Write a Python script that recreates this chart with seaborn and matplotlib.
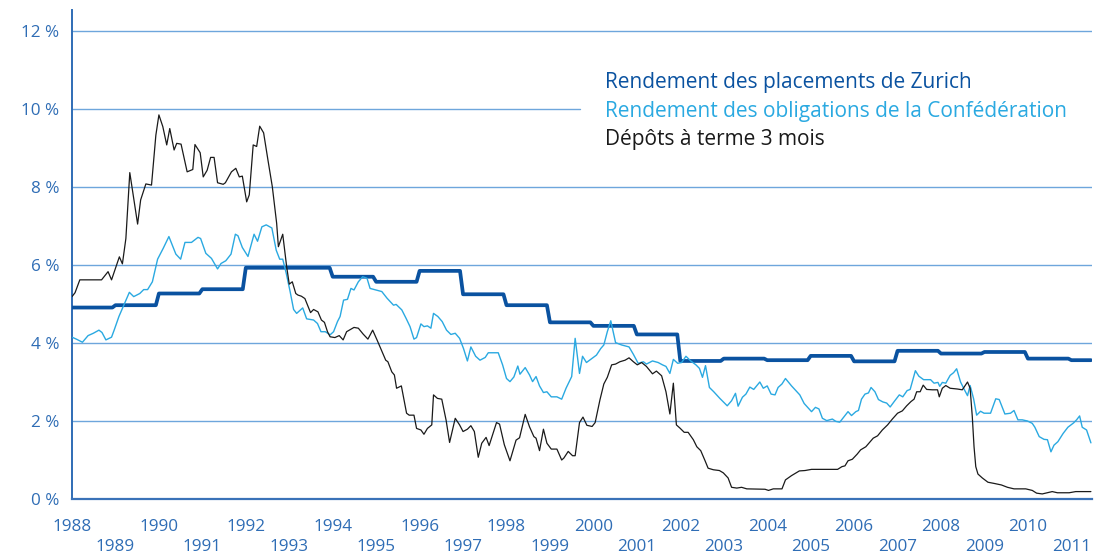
import pandas as pd
import matplotlib
matplotlib.use("Agg")
import matplotlib.pyplot as plt
import seaborn as sns

# Rendement des placements de Zurich (annual, step)
zurich_years = [1988, 1989, 1990, 1991, 1992, 1993, 1994, 1995, 1996, 1997, 1998, 1999,
                2000, 2001, 2002, 2003, 2004, 2005, 2006, 2007, 2008, 2009, 2010, 2011]
zurich_vals = [4.91, 4.97, 5.27, 5.38, 5.93, 5.93, 5.70, 5.57, 5.85, 5.25, 4.97, 4.53,
               4.44, 4.22, 3.54, 3.60, 3.56, 3.67, 3.53, 3.80, 3.73, 3.77, 3.60, 3.56]
series_end = 2011.45

# Rendement des obligations de la Confédération
bond_t = [1988.0, 1988.10, 1988.24, 1988.37, 1988.49, 1988.62, 1988.69, 1988.78, 1988.91, 1988.97,
          1989.08, 1989.18, 1989.32, 1989.42, 1989.56, 1989.65, 1989.74, 1989.85, 1989.97, 1990.10,
          1990.23, 1990.39, 1990.50, 1990.60, 1990.75, 1990.90, 1990.96, 1991.08, 1991.21, 1991.35,
          1991.43, 1991.54, 1991.66, 1991.76, 1991.82, 1991.92, 1992.05, 1992.19, 1992.27, 1992.37,
          1992.47, 1992.60, 1992.70, 1992.78, 1992.85, 1992.93, 1993.02, 1993.10, 1993.17, 1993.31,
          1993.40, 1993.56, 1993.65, 1993.73, 1993.83, 1993.94, 1994.02, 1994.11, 1994.17, 1994.25,
          1994.34, 1994.42, 1994.49, 1994.59, 1994.69, 1994.79, 1994.86, 1995.00, 1995.13, 1995.25,
          1995.40, 1995.46, 1995.59, 1995.69, 1995.78, 1995.87, 1995.93, 1996.03, 1996.10, 1996.18,
          1996.26, 1996.32, 1996.42, 1996.52, 1996.62, 1996.72, 1996.82, 1996.92, 1997.01, 1997.10,
          1997.18, 1997.29, 1997.39, 1997.51, 1997.58, 1997.81, 1997.91, 1998.00, 1998.08, 1998.17,
          1998.26, 1998.31, 1998.43, 1998.53, 1998.60, 1998.68, 1998.76, 1998.85, 1998.93, 1999.03,
          1999.16, 1999.27, 1999.37, 1999.50, 1999.58, 1999.68, 1999.75, 1999.84, 1999.96, 2000.07,
          2000.17, 2000.24, 2000.32, 2000.40, 2000.51, 2000.65, 2000.82, 2000.92, 2001.03, 2001.15,
          2001.22, 2001.36, 2001.49, 2001.59, 2001.67, 2001.76, 2001.84, 2001.94, 2002.03, 2002.13,
          2002.24, 2002.36, 2002.44, 2002.51, 2002.58, 2002.67, 2002.77, 2002.91, 2003.08, 2003.18,
          2003.27, 2003.33, 2003.43, 2003.51, 2003.60, 2003.69, 2003.83, 2003.91, 2004.00, 2004.09,
          2004.18, 2004.25, 2004.34, 2004.42, 2004.56, 2004.75, 2004.85, 2005.02, 2005.11, 2005.19,
          2005.27, 2005.37, 2005.50, 2005.58, 2005.67, 2005.77, 2005.86, 2005.94, 2006.04, 2006.10,
          2006.17, 2006.25, 2006.33, 2006.39, 2006.48, 2006.56, 2006.66, 2006.75, 2006.83, 2006.93,
          2007.04, 2007.12, 2007.22, 2007.29, 2007.41, 2007.49, 2007.60, 2007.76, 2007.84, 2007.93,
          2007.97, 2008.03, 2008.11, 2008.21, 2008.29, 2008.36, 2008.45, 2008.53, 2008.61, 2008.67,
          2008.75, 2008.82, 2008.91, 2008.99, 2009.14, 2009.26, 2009.34, 2009.47, 2009.60, 2009.68,
          2009.77, 2009.87, 2009.99, 2010.10, 2010.16, 2010.26, 2010.37, 2010.45, 2010.53, 2010.60,
          2010.69, 2010.81, 2010.92, 2011.05, 2011.12, 2011.19, 2011.25, 2011.35, 2011.45]
bond_v = [4.15, 4.10, 4.02, 4.19, 4.25, 4.33, 4.27, 4.08, 4.15, 4.33,
          4.68, 4.94, 5.30, 5.19, 5.27, 5.37, 5.37, 5.57, 6.15, 6.43,
          6.73, 6.28, 6.15, 6.58, 6.58, 6.71, 6.68, 6.30, 6.17, 5.90,
          6.04, 6.11, 6.28, 6.79, 6.75, 6.45, 6.22, 6.79, 6.61, 6.98,
          7.03, 6.95, 6.38, 6.15, 6.15, 5.79, 5.32, 4.86, 4.76, 4.90,
          4.62, 4.59, 4.50, 4.29, 4.29, 4.21, 4.29, 4.55, 4.68, 5.10,
          5.12, 5.40, 5.36, 5.57, 5.70, 5.66, 5.40, 5.36, 5.32, 5.15,
          4.97, 4.99, 4.85, 4.63, 4.42, 4.10, 4.14, 4.49, 4.42, 4.44,
          4.38, 4.76, 4.68, 4.55, 4.33, 4.22, 4.25, 4.12, 3.86, 3.54,
          3.90, 3.66, 3.56, 3.63, 3.75, 3.75, 3.44, 3.09, 3.01, 3.13,
          3.41, 3.20, 3.37, 3.18, 3.01, 3.14, 2.90, 2.73, 2.75, 2.62,
          2.62, 2.56, 2.84, 3.14, 4.12, 3.22, 3.66, 3.50, 3.60, 3.69,
          3.86, 3.95, 4.29, 4.57, 4.01, 3.95, 3.90, 3.71, 3.48, 3.52,
          3.46, 3.54, 3.50, 3.44, 3.40, 3.22, 3.58, 3.48, 3.50, 3.66,
          3.54, 3.44, 3.35, 3.12, 3.42, 2.86, 2.75, 2.58, 2.39, 2.52,
          2.71, 2.38, 2.61, 2.69, 2.87, 2.81, 3.00, 2.84, 2.90, 2.69,
          2.67, 2.86, 2.95, 3.09, 2.90, 2.67, 2.45, 2.24, 2.35, 2.31,
          2.07, 2.01, 2.05, 1.99, 1.97, 2.11, 2.24, 2.14, 2.24, 2.27,
          2.56, 2.69, 2.72, 2.86, 2.75, 2.55, 2.49, 2.46, 2.36, 2.51,
          2.67, 2.62, 2.78, 2.81, 3.29, 3.15, 3.06, 3.06, 2.97, 2.99,
          2.89, 2.99, 2.97, 3.17, 3.24, 3.34, 3.00, 2.82, 2.65, 2.91,
          2.57, 2.15, 2.25, 2.20, 2.20, 2.57, 2.55, 2.18, 2.20, 2.27,
          2.03, 2.03, 2.00, 1.94, 1.84, 1.60, 1.53, 1.52, 1.21, 1.38,
          1.47, 1.68, 1.84, 1.95, 2.03, 2.13, 1.84, 1.77, 1.44]

# Dépôts à terme 3 mois
dep_t = [1988.0, 1988.07, 1988.18, 1988.68, 1988.83, 1988.91, 1989.09, 1989.16, 1989.24, 1989.33,
         1989.51, 1989.58, 1989.70, 1989.83, 1989.93, 1990.00, 1990.09, 1990.18, 1990.25, 1990.35,
         1990.41, 1990.51, 1990.65, 1990.78, 1990.83, 1990.95, 1991.02, 1991.11, 1991.19, 1991.27,
         1991.35, 1991.48, 1991.53, 1991.67, 1991.77, 1991.85, 1991.92, 1992.02, 1992.08, 1992.17,
         1992.25, 1992.32, 1992.41, 1992.51, 1992.61, 1992.71, 1992.75, 1992.85, 1992.94, 1993.00,
         1993.07, 1993.15, 1993.20, 1993.28, 1993.36, 1993.49, 1993.56, 1993.66, 1993.74, 1993.81,
         1993.88, 1993.94, 1994.05, 1994.15, 1994.24, 1994.32, 1994.49, 1994.59, 1994.70, 1994.81,
         1994.92, 1995.02, 1995.12, 1995.22, 1995.27, 1995.36, 1995.42, 1995.47, 1995.58, 1995.70,
         1995.76, 1995.87, 1995.93, 1996.03, 1996.10, 1996.18, 1996.28, 1996.32, 1996.41, 1996.51,
         1996.61, 1996.69, 1996.82, 1996.92, 1997.00, 1997.10, 1997.18, 1997.26, 1997.35, 1997.43,
         1997.53, 1997.60, 1997.77, 1997.84, 1997.95, 1998.08, 1998.22, 1998.30, 1998.43, 1998.53,
         1998.63, 1998.68, 1998.76, 1998.85, 1998.93, 1999.03, 1999.16, 1999.27, 1999.32, 1999.42,
         1999.52, 1999.58, 1999.68, 1999.76, 1999.85, 1999.97, 2000.04, 2000.15, 2000.24, 2000.32,
         2000.42, 2000.51, 2000.61, 2000.73, 2000.82, 2000.92, 2001.01, 2001.11, 2001.22, 2001.36,
         2001.45, 2001.57, 2001.67, 2001.76, 2001.84, 2001.91, 2001.99, 2002.09, 2002.18, 2002.30,
         2002.38, 2002.47, 2002.57, 2002.64, 2002.76, 2002.90, 2002.99, 2003.10, 2003.18, 2003.30,
         2003.41, 2003.53, 2003.95, 2004.03, 2004.14, 2004.34, 2004.42, 2004.56, 2004.74, 2004.87,
         2005.02, 2005.62, 2005.72, 2005.79, 2005.86, 2005.96, 2006.07, 2006.15, 2006.27, 2006.37,
         2006.44, 2006.54, 2006.65, 2006.77, 2006.88, 2007.00, 2007.11, 2007.21, 2007.31, 2007.38,
         2007.44, 2007.52, 2007.59, 2007.67, 2007.80, 2007.92, 2007.96, 2008.03, 2008.11, 2008.21,
         2008.38, 2008.49, 2008.55, 2008.61, 2008.67, 2008.72, 2008.76, 2008.80, 2008.85, 2008.95,
         2009.08, 2009.22, 2009.39, 2009.53, 2009.68, 2009.95, 2010.10, 2010.20, 2010.33, 2010.45,
         2010.56, 2010.68, 2010.95, 2011.10, 2011.45]
dep_v = [5.19, 5.29, 5.62, 5.62, 5.83, 5.62, 6.21, 6.03, 6.68, 8.37,
         7.05, 7.67, 8.08, 8.05, 9.33, 9.85, 9.55, 9.08, 9.50, 8.95,
         9.12, 9.10, 8.39, 8.45, 9.09, 8.88, 8.26, 8.43, 8.76, 8.76,
         8.11, 8.07, 8.11, 8.39, 8.48, 8.26, 8.28, 7.62, 7.80, 9.08,
         9.04, 9.56, 9.39, 8.69, 8.01, 7.07, 6.47, 6.79, 5.96, 5.51,
         5.57, 5.27, 5.23, 5.20, 5.14, 4.78, 4.86, 4.80, 4.59, 4.53,
         4.29, 4.16, 4.14, 4.19, 4.08, 4.29, 4.40, 4.38, 4.23, 4.10,
         4.33, 4.08, 3.82, 3.56, 3.52, 3.26, 3.18, 2.84, 2.90, 2.20,
         2.15, 2.15, 1.81, 1.77, 1.66, 1.81, 1.90, 2.67, 2.58, 2.56,
         2.02, 1.45, 2.07, 1.90, 1.73, 1.79, 1.88, 1.73, 1.07, 1.43,
         1.58, 1.37, 1.96, 1.92, 1.39, 0.98, 1.51, 1.57, 2.17, 1.85,
         1.60, 1.56, 1.24, 1.79, 1.43, 1.28, 1.28, 1.00, 1.05, 1.22,
         1.11, 1.11, 1.96, 2.10, 1.89, 1.86, 1.96, 2.54, 2.95, 3.12,
         3.44, 3.46, 3.52, 3.56, 3.62, 3.52, 3.44, 3.50, 3.40, 3.21,
         3.28, 3.16, 2.75, 2.18, 2.97, 1.90, 1.82, 1.71, 1.71, 1.52,
         1.34, 1.24, 0.98, 0.79, 0.75, 0.73, 0.67, 0.54, 0.30, 0.28,
         0.30, 0.26, 0.25, 0.22, 0.26, 0.26, 0.49, 0.60, 0.72, 0.73,
         0.76, 0.76, 0.83, 0.85, 0.98, 1.02, 1.15, 1.26, 1.34, 1.47,
         1.56, 1.62, 1.77, 1.90, 2.05, 2.20, 2.26, 2.39, 2.50, 2.56,
         2.75, 2.75, 2.92, 2.81, 2.80, 2.80, 2.62, 2.84, 2.91, 2.84,
         2.82, 2.80, 2.90, 3.00, 2.84, 2.11, 1.34, 0.83, 0.64, 0.54,
         0.43, 0.40, 0.36, 0.30, 0.26, 0.26, 0.22, 0.15, 0.13, 0.16,
         0.19, 0.16, 0.16, 0.19, 0.19]

y_ticks = [0, 2, 4, 6, 8, 10, 12]
even_years = list(range(1988, 2012, 2))
odd_years = list(range(1989, 2012, 2))

legend_labels = ["Rendement des placements de Zurich",
                 "Rendement des obligations de la Confédération",
                 "Dépôts à terme 3 mois"]

C_ZURICH = "#0a52a0"
C_BOND = "#2aa9e1"
C_DEP = "#1a1a1a"
C_AXIS = "#2f6db5"
C_GRID = "#6ea6dc"
C_TICK = "#92b9e3"

# step series: flat over the year, short ramp into the next year
zx, zy = [], []
for i, (yr, v) in enumerate(zip(zurich_years, zurich_vals)):
    end = series_end if i == len(zurich_years) - 1 else yr + 0.93
    zx += [yr, end]
    zy += [v, v]
zurich_df = pd.DataFrame({"annee": zx, "rendement": zy})
bond_df = pd.DataFrame({"annee": bond_t, "rendement": bond_v})
dep_df = pd.DataFrame({"annee": dep_t, "rendement": dep_v})

sns.set_style("white")
plt.rcParams['font.family'] = ['Open Sans', 'DejaVu Sans']

fig = plt.figure(figsize=(10.94, 5.56), dpi=100)
ax = fig.add_axes([72 / 1094, 57 / 556, 1020 / 1094, 489 / 556])

for v in y_ticks[1:]:
    xmax = 0.498 if v == 10 else 1
    ax.axhline(v, xmin=0, xmax=xmax, color=C_GRID, lw=1.0, zorder=1)

sns.lineplot(data=zurich_df, x="annee", y="rendement", ax=ax, color=C_ZURICH,
             linewidth=2.7, sort=False, zorder=3)
sns.lineplot(data=bond_df, x="annee", y="rendement", ax=ax, color=C_BOND,
             linewidth=1.0, sort=False, zorder=4)
sns.lineplot(data=dep_df, x="annee", y="rendement", ax=ax, color=C_DEP,
             linewidth=0.9, sort=False, zorder=5)

ax.set_xlim(1988, 2011.475)
ax.set_ylim(0, 12.54)
ax.set_xlabel("")
ax.set_ylabel("")

ax.set_yticks(y_ticks)
ax.set_yticklabels([f"{v} %" for v in y_ticks])
ax.tick_params(axis="y", length=0, pad=9, labelsize=12.3, labelcolor=C_AXIS)

ax.set_xticks(even_years)
ax.set_xticklabels([str(y) for y in even_years])
ax.set_xticks(odd_years, minor=True)
ax.set_xticklabels([str(y) for y in odd_years], minor=True)
ax.tick_params(axis="x", which="major", direction="out", length=7.5, width=1.1,
               color=C_TICK, pad=7, labelsize=12.3, labelcolor=C_AXIS)
ax.tick_params(axis="x", which="minor", direction="out", length=24, width=1.1,
               color=C_TICK, pad=4.5, labelsize=12.3, labelcolor=C_AXIS)

for side in ["top", "right"]:
    ax.spines[side].set_visible(False)
ax.spines["left"].set_color(C_AXIS)
ax.spines["left"].set_linewidth(1.4)
ax.spines["bottom"].set_color("#3a72b8")
ax.spines["bottom"].set_linewidth(1.6)

for i, (txt, col) in enumerate(zip(legend_labels, [C_ZURICH, C_BOND, C_DEP])):
    ax.text(0.5225, 0.840 - i * 0.058, txt, transform=ax.transAxes, color=col,
            fontsize=15, va="baseline", ha="left")

fig.savefig("out.png", dpi=100)
